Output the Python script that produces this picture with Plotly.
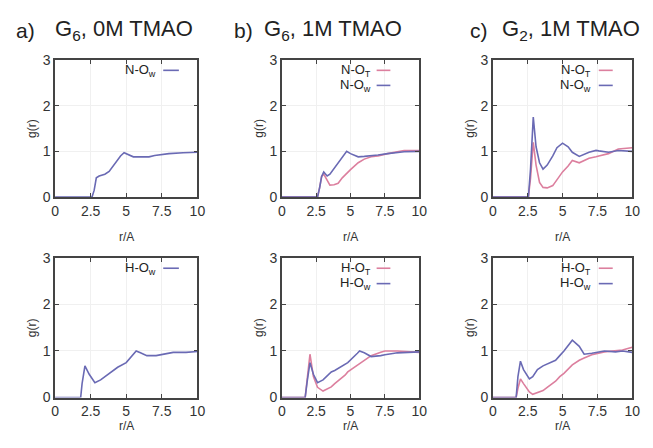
import plotly.graph_objects as go
from plotly.subplots import make_subplots

# ---- data ----
# a) G6, 0M TMAO
a_top_r = [0, 2.6, 2.75, 2.9, 3.1, 3.5, 3.8, 4.2, 4.6, 4.85, 5.1, 5.5, 6.0, 6.6, 7.0, 7.4, 8.0, 9.0, 10]
a_top_NOw = [0, 0, 0.15, 0.42, 0.46, 0.5, 0.56, 0.72, 0.9, 0.97, 0.93, 0.88, 0.88, 0.88, 0.91, 0.93, 0.95, 0.97, 0.98]

a_bot_r = [0, 1.8, 1.9, 2.1, 2.4, 2.8, 3.2, 3.7, 4.4, 5.0, 5.4, 5.7, 6.0, 6.45, 7.1, 7.7, 8.3, 9.2, 10]
a_bot_HOw = [0, 0, 0.3, 0.68, 0.5, 0.32, 0.38, 0.5, 0.65, 0.75, 0.88, 1.0, 0.96, 0.9, 0.9, 0.94, 0.97, 0.97, 0.99]

# b) G6, 1M TMAO
b_top_r = [0, 2.6, 2.75, 2.9, 3.05, 3.3, 3.5, 3.8, 4.1, 4.4, 4.72, 5.0, 5.56, 6.0, 6.5, 7.0, 7.7, 8.5, 8.9, 10]
b_top_NOT = [0, 0, 0.2, 0.45, 0.5, 0.35, 0.26, 0.27, 0.3, 0.42, 0.52, 0.6, 0.75, 0.83, 0.88, 0.9, 0.95, 0.99, 1.02, 1.02]
b_top_NOw = [0, 0, 0.2, 0.45, 0.55, 0.46, 0.5, 0.62, 0.75, 0.88, 1.0, 0.95, 0.88, 0.89, 0.9, 0.92, 0.95, 0.98, 0.99, 1.0]

b_bot_r = [0, 1.7, 1.85, 2.05, 2.3, 2.6, 3.0, 3.6, 3.85, 4.6, 4.8, 5.5, 5.66, 6.0, 6.5, 7.2, 7.5, 8.2, 8.4, 10]
b_bot_HOT = [0, 0, 0.4, 0.93, 0.45, 0.22, 0.14, 0.23, 0.3, 0.48, 0.55, 0.7, 0.73, 0.8, 0.9, 0.97, 1.0, 1.0, 1.0, 0.97]
b_bot_HOw = [0, 0, 0.35, 0.75, 0.5, 0.32, 0.38, 0.55, 0.58, 0.7, 0.75, 0.95, 1.0, 0.96, 0.88, 0.9, 0.92, 0.95, 0.96, 0.98]

# c) G2, 1M TMAO
c_top_r = [0, 2.55, 2.7, 2.9, 3.1, 3.35, 3.6, 3.9, 4.3, 4.6, 5.0, 5.4, 5.7, 6.2, 6.9, 7.4, 7.6, 8.3, 9.0, 10]
c_top_NOT = [0, 0, 0.4, 1.2, 0.7, 0.32, 0.21, 0.2, 0.25, 0.38, 0.55, 0.68, 0.8, 0.75, 0.85, 0.88, 0.9, 0.95, 1.05, 1.08]
c_top_NOw = [0, 0, 0.6, 1.75, 1.1, 0.75, 0.61, 0.7, 0.9, 1.08, 1.18, 1.1, 0.98, 0.89, 0.98, 1.02, 1.01, 0.98, 1.02, 1.0]

c_bot_r = [0, 1.67, 1.8, 1.98, 2.2, 2.62, 2.86, 3.2, 3.6, 3.9, 4.3, 4.5, 4.8, 5.1, 5.7, 6.2, 6.55, 7.1, 8.0, 8.8, 9.3, 10]
c_bot_HOT = [0, 0, 0.2, 0.4, 0.3, 0.12, 0.07, 0.1, 0.15, 0.22, 0.3, 0.35, 0.45, 0.52, 0.7, 0.8, 0.85, 0.92, 0.98, 1.0, 1.02, 1.08]
c_bot_HOw = [0, 0, 0.45, 0.78, 0.6, 0.4, 0.45, 0.6, 0.68, 0.72, 0.78, 0.8, 0.9, 1.0, 1.23, 1.1, 0.93, 0.95, 1.0, 0.98, 1.0, 0.97]

x_ticks = [0, 2.5, 5, 7.5, 10]
x_tick_text = ["0", "2.5", "5", "7.5", "10"]
y_ticks = [0, 1, 2, 3]

titles = [("a)", "G<sub>6</sub>, 0M TMAO"), ("b)", "G<sub>6</sub>, 1M TMAO"), ("c)", "G<sub>2</sub>, 1M TMAO")]

BLUE = "#6a6ab4"
PINK = "#dc7f9e"

panels = [
    (1, 1, a_top_r, [(a_top_NOw, BLUE, "N-O<sub>w</sub>")]),
    (1, 2, b_top_r, [(b_top_NOT, PINK, "N-O<sub>T</sub>"), (b_top_NOw, BLUE, "N-O<sub>w</sub>")]),
    (1, 3, c_top_r, [(c_top_NOT, PINK, "N-O<sub>T</sub>"), (c_top_NOw, BLUE, "N-O<sub>w</sub>")]),
    (2, 1, a_bot_r, [(a_bot_HOw, BLUE, "H-O<sub>w</sub>")]),
    (2, 2, b_bot_r, [(b_bot_HOT, PINK, "H-O<sub>T</sub>"), (b_bot_HOw, BLUE, "H-O<sub>w</sub>")]),
    (2, 3, c_bot_r, [(c_bot_HOT, PINK, "H-O<sub>T</sub>"), (c_bot_HOw, BLUE, "H-O<sub>w</sub>")]),
]

W, H = 653, 448
fig = make_subplots(rows=2, cols=3)

col_px = [(52, 197), (283, 423), (498, 640)]
row_px = [(54, 196), (259, 404)]
xlabel_off = [41, 29]
legend_text_x = [0.72, 0.66, 0.72]
legend_line_x = [(0.76, 0.87), (0.69, 0.79), (0.76, 0.86)]

FONT = "Liberation Sans, Arial, sans-serif"

for (row, col, r, series) in panels:
    for (yv, color, label) in series:
        fig.add_trace(go.Scatter(x=r, y=yv, mode="lines", line=dict(color=color, width=1.6),
                                 showlegend=False, name=label), row=row, col=col)
    idx = (row - 1) * 3 + col
    xa = "xaxis" if idx == 1 else f"xaxis{idx}"
    ya = "yaxis" if idx == 1 else f"yaxis{idx}"
    l, rr = col_px[col - 1]
    t, b = row_px[row - 1]
    fig.layout[xa].domain = [l / W, rr / W]
    fig.layout[ya].domain = [1 - b / H, 1 - t / H]
    xref = "x" if idx == 1 else f"x{idx}"
    yref = "y" if idx == 1 else f"y{idx}"
    for k, (yv, color, label) in enumerate(series):
        ypos = 0.925 - k * 0.11
        fig.add_annotation(x=legend_text_x[col - 1], y=ypos, xref=f"{xref} domain", yref=f"{yref} domain",
                           text=label, showarrow=False, xanchor="right", yanchor="middle",
                           font=dict(family=FONT, size=13, color="#222"))
        x0, x1 = legend_line_x[col - 1]
        fig.add_shape(type="line", x0=x0, x1=x1, y0=ypos, y1=ypos,
                      xref=f"{xref} domain", yref=f"{yref} domain",
                      line=dict(color=color, width=1.6))
    fig.add_annotation(x=(l + rr) / 2 / W, y=1 - (b + xlabel_off[row - 1]) / H, xref="paper", yref="paper",
                       text="r/A", showarrow=False, xanchor="center", yanchor="middle",
                       font=dict(family=FONT, size=12, color="#333"))
    fig.add_annotation(x=(l - 24) / W, y=1 - (t + b) / 2 / H, xref="paper", yref="paper",
                       text="g(r)", showarrow=False, textangle=-90, xanchor="center", yanchor="middle",
                       font=dict(family=FONT, size=12, color="#333"))

fig.update_xaxes(range=[0, 10], tickvals=x_ticks, ticktext=x_tick_text, ticks="inside", ticklen=4,
                 mirror="ticks", showline=True, linecolor="#444", linewidth=1.5, tickcolor="#444",
                 showgrid=True, gridcolor="#f0f0f0", zeroline=False,
                 tickfont=dict(family=FONT, size=14, color="#333"))
fig.update_yaxes(range=[0, 3], tickvals=y_ticks, ticks="inside", ticklen=4,
                 mirror="ticks", showline=True, linecolor="#444", linewidth=1.5, tickcolor="#444",
                 showgrid=True, gridcolor="#f0f0f0", zeroline=False,
                 tickfont=dict(family=FONT, size=14, color="#333"))

title_pos = [(10, 50), (232, 263), (473, 505)]
for (lab, txt), (xl, xt) in zip(titles, title_pos):
    fig.add_annotation(x=xl / W, y=1 - 23 / H, xref="paper", yref="paper", text=lab, showarrow=False,
                       xanchor="left", yanchor="middle", font=dict(family=FONT, size=21, color="#222"))
    fig.add_annotation(x=xt / W, y=1 - 23 / H, xref="paper", yref="paper", text=txt, showarrow=False,
                       xanchor="left", yanchor="middle", font=dict(family=FONT, size=22, color="#222"))

fig.update_layout(width=W, height=H, margin=dict(l=0, r=0, t=0, b=0),
                  paper_bgcolor="white", plot_bgcolor="white", showlegend=False)

fig.write_html("out.html", config={"displayModeBar": False},
               post_script="document.body.style.margin='0';document.body.style.overflow='hidden';")
